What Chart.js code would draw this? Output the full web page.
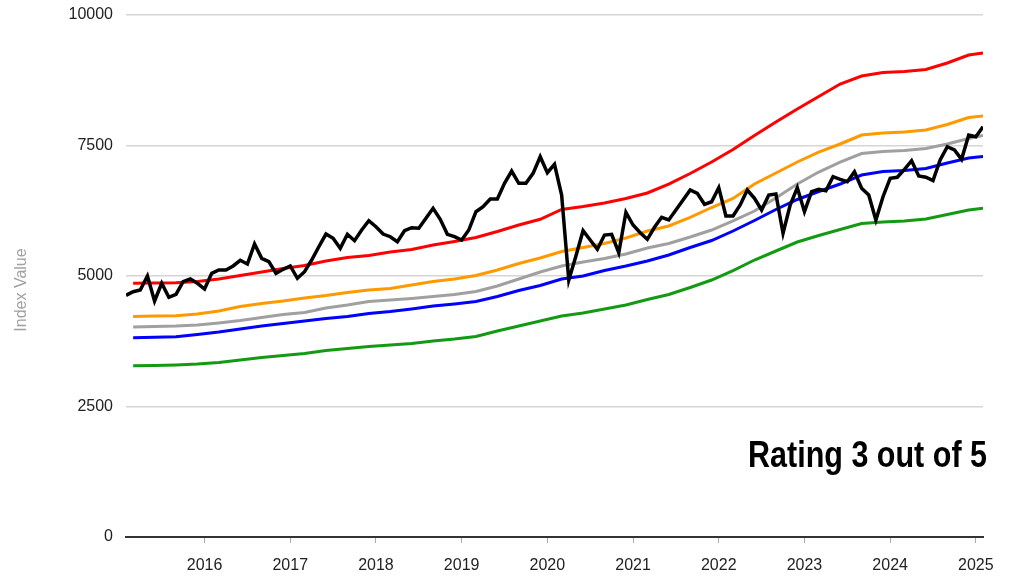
<!DOCTYPE html>
<html>
<head>
<meta charset="utf-8">
<script src="https://cdn.jsdelivr.net/npm/chart.js@4/dist/chart.umd.min.js"></script>
<style>
  html, body { margin: 0; padding: 0; background: #ffffff; }
  #wrap { width: 1013px; height: 577px; }
</style>
</head>
<body>
<div id="wrap"><canvas id="c" width="1013" height="577"></canvas></div>
<script>
// ---- Data ----
// Black index line: monthly, Feb 2015 .. Feb 2025
const indexStart = '2015-02';
const indexValues = [
  4630,4699,4732,5000,4521,4860,4592,4649,4891,4942,4860,4751,5052,5115,5115,5192,5301,5230,5613,5339,5274,5052,5128,5192,4956,
  5082,5306,5561,5804,5722,5531,5799,5676,5881,6059,5944,5804,5753,5657,5868,5925,5914,6105,6297,6086,5799,5753,5690,5881,6232,
  6327,6475,6475,6776,7011,6776,6776,6967,7285,6979,7140,6552,4920,5383,5868,5690,5511,5785,5799,5446,6220,5977,5829,5703,
  5933,6125,6073,6264,6456,6647,6584,6374,6423,6692,6149,6149,6360,6647,6488,6264,6552,6571,5818,6360,6692,6232,6615,6661,
  6634,6902,6852,6807,6998,6680,6552,6073,6519,6872,6891,7044,7209,6916,6891,6826,7222,7477,7414,7235,7701,7668,7860
];

// Band lines: dates (year-month)
const bandDates = [
  '2015-03','2015-06','2015-09','2015-12',
  '2016-03','2016-06','2016-09','2016-12',
  '2017-03','2017-06','2017-09','2017-12',
  '2018-03','2018-06','2018-09','2018-12',
  '2019-03','2019-06','2019-09','2019-12',
  '2020-03','2020-06','2020-09','2020-12',
  '2021-03','2021-06','2021-09','2021-12',
  '2022-03','2022-06','2022-09','2022-12',
  '2023-03','2023-06','2023-09','2023-12',
  '2024-03','2024-06','2024-09','2024-12',
  '2025-02'
];
const redValues = [4860,4866,4872,4895,4942,5009,5077,5144,5201,5287,5354,5393,5460,5508,5594,5661,5737,5852,5977,6086,
  6274,6331,6398,6485,6590,6762,6963,7184,7423,7692,7950,8199,8439,8678,8831,8899,8918,8956,9080,9234,9272];
const orangeValues = [4224,4234,4239,4272,4329,4416,4473,4521,4579,4626,4684,4732,4761,4828,4895,4942,5009,5115,5239,5345,
  5469,5546,5623,5728,5862,5958,6121,6312,6485,6762,6973,7184,7375,7529,7701,7739,7759,7797,7902,8036,8065];
const grayValues = [4023,4033,4042,4061,4100,4147,4205,4262,4301,4387,4444,4512,4540,4569,4607,4646,4703,4808,4942,5077,
  5191,5268,5335,5421,5536,5623,5747,5881,6054,6245,6494,6763,6992,7183,7347,7385,7404,7442,7529,7634,7692];
const blueValues = [3818,3826,3835,3879,3927,3985,4042,4090,4138,4186,4224,4282,4320,4368,4425,4464,4512,4607,4722,4818,
  4942,5000,5105,5191,5287,5402,5546,5680,5862,6063,6274,6466,6619,6762,6935,7002,7021,7059,7165,7261,7289];
const greenValues = [3280,3285,3295,3314,3343,3391,3439,3477,3515,3573,3611,3649,3678,3707,3755,3793,3841,3946,4042,4138,
  4234,4291,4368,4444,4550,4646,4780,4923,5105,5306,5479,5651,5776,5891,6006,6034,6054,6092,6178,6264,6297];

const yearTicks = [2016,2017,2018,2019,2020,2021,2022,2023,2024,2025];
const valueTicks = [0,2500,5000,7500,10000];
const yTitle = 'Index Value';
const ratingText = 'Rating 3 out of 5';

// ---- helpers ----
function ym(s){ const [y,m] = s.split('-').map(Number); return y + (m-1)/12; }
const startX = ym(indexStart);
const indexPoints = indexValues.map((v,i)=>({x: startX + i/12, y: v}));
const bandX = bandDates.map(ym);
const pts = arr => arr.map((v,i)=>({x: bandX[i], y: v}));
const xMin = startX;
const xMax = startX + (indexValues.length-1)/12;

const textPlugin = {
  id: 'texts',
  afterDraw(chart){
    const ctx = chart.ctx;
    ctx.save();
    ctx.fillStyle = '#a0a0a0';
    ctx.font = '16px "Liberation Sans", Arial, sans-serif';
    ctx.translate(22, 290);
    ctx.rotate(-Math.PI/2);
    ctx.textAlign = 'center';
    ctx.textBaseline = 'middle';
    ctx.fillText(yTitle, 0, 0);
    ctx.restore();

    ctx.save();
    ctx.font = 'bold 36px "Liberation Sans", Arial, sans-serif';
    const w = ctx.measureText(ratingText).width;
    ctx.translate(987, 467);
    ctx.scale(239 / w, 1);
    ctx.textAlign = 'right';
    ctx.textBaseline = 'alphabetic';
    ctx.fillStyle = '#000000';
    ctx.fillText(ratingText, 0, 0);
    ctx.restore();
  }
};

const lineDs = (data, color, width) => ({
  data, borderColor: color, backgroundColor: color, borderWidth: width,
  pointRadius: 0, pointHoverRadius: 0, tension: 0, fill: false
});

new Chart(document.getElementById('c'), {
  type: 'line',
  data: {
    datasets: [
      lineDs(indexPoints, '#000000', 3.5),
      lineDs(pts(redValues), '#ff0000', 3),
      lineDs(pts(orangeValues), '#ff9900', 3),
      lineDs(pts(grayValues), '#a0a0a0', 3),
      lineDs(pts(blueValues), '#0000ff', 3),
      lineDs(pts(greenValues), '#139a13', 3)
    ]
  },
  options: {
    responsive: false,
    animation: false,
    events: [],
    layout: { padding: { left: 0, right: 30, top: 15, bottom: 0 } },
    plugins: { legend: { display: false }, tooltip: { enabled: false } },
    scales: {
      x: {
        type: 'linear',
        min: xMin, max: xMax,
        afterBuildTicks: s => { s.ticks = yearTicks.map(v => ({value: v})); },
        afterFit: s => { s.height = 40; s.paddingLeft = 0; s.paddingRight = 0; },
        ticks: {
          callback: v => String(v),
          color: '#222222',
          font: { family: '"Liberation Sans", Arial, sans-serif', size: 16 },
          padding: 13,
          maxRotation: 0, autoSkip: false
        },
        grid: { display: true, drawOnChartArea: false, drawTicks: true, tickLength: 6, color: '#aaaaaa', lineWidth: 1 },
        border: { display: true, color: '#333333', width: 2 }
      },
      y: {
        type: 'linear',
        min: 0, max: 10000,
        afterBuildTicks: s => { s.ticks = valueTicks.map(v => ({value: v})); },
        afterFit: s => { s.width = 126; s.paddingTop = 0; s.paddingBottom = 0; },
        ticks: {
          callback: v => String(v),
          color: '#222222',
          font: { family: '"Liberation Sans", Arial, sans-serif', size: 16 },
          padding: 13
        },
        grid: { color: '#d6d6d6', lineWidth: 1.5, drawTicks: false },
        border: { display: false }
      }
    }
  },
  plugins: [textPlugin]
});
</script>
</body>
</html>
